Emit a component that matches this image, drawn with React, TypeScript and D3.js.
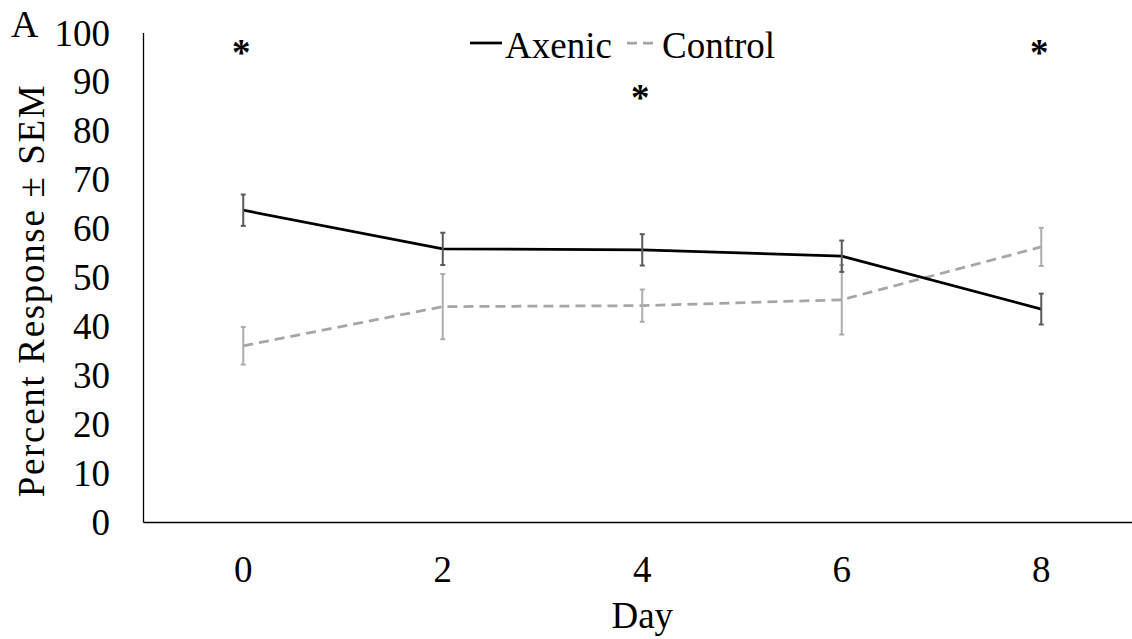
import React from "react";
import * as d3 from "d3";

// chart data
const days = ["0", "2", "4", "6", "8"];
const axenicMean = [63.8, 55.9, 55.7, 54.4, 43.6];
const axenicSem = [3.2, 3.3, 3.2, 3.2, 3.15];
const controlMean = [36.1, 44.1, 44.3, 45.5, 56.3];
const controlSem = [3.85, 6.65, 3.3, 7.1, 3.9];
const yTicks = [0, 10, 20, 30, 40, 50, 60, 70, 80, 90, 100];
// significance markers: day and height (percent)
const starDays = ["0", "4", "8"];
const starValues = [97.1, 87.8, 97.1];

const width = 1132;
const height = 639;
const margin = { top: 33, right: -9, bottom: 116.5, left: 143.5 };
const font = "'Liberation Serif', 'Times New Roman', serif";

const App = () => {
  const x = d3
    .scaleBand()
    .domain(days)
    .range([margin.left, width - margin.right])
    .padding(0);

  const y = d3
    .scaleLinear()
    .domain([0, 100])
    .range([height - margin.bottom, margin.top]);

  const cx = (d: string) => (x(d) as number) + x.bandwidth() / 2;

  const line = d3
    .line<number>()
    .x((_, i) => cx(days[i]))
    .y((v) => y(v));

  const errorBars = (means: number[], sems: number[], color: string) =>
    means.map((m, i) => {
      const px = cx(days[i]);
      const top = y(m + sems[i]);
      const bot = y(m - sems[i]);
      return (
        <g key={i} stroke={color} strokeWidth={2}>
          <line x1={px} x2={px} y1={top} y2={bot} />
          <line x1={px - 2.5} x2={px + 2.5} y1={top} y2={top} />
          <line x1={px - 2.5} x2={px + 2.5} y1={bot} y2={bot} />
        </g>
      );
    });

  const y0 = y(0);
  const plotMidY = (y(0) + y(100)) / 2;

  return (
    <>
      <style>{`body{margin:0}`}</style>
      <svg width={width} height={height} style={{ display: "block" }} fontFamily={font}>
        <rect width={width} height={height} fill="#fff" />

        {/* axes */}
        <line x1={margin.left} x2={margin.left} y1={y(100)} y2={y0} stroke="#000" strokeWidth={1.3} />
        <line x1={margin.left} x2={width - margin.right} y1={y0} y2={y0} stroke="#000" strokeWidth={1.6} />

        {yTicks.map((t) => (
          <text key={t} x={110} y={y(t)} dy={12.5} textAnchor="end" fontSize={37}>
            {t}
          </text>
        ))}
        {days.map((d) => (
          <text key={d} x={cx(d)} y={y0 + 59.5} textAnchor="middle" fontSize={37}>
            {d}
          </text>
        ))}

        <text x={(margin.left + width - margin.right) / 2} y={628} textAnchor="middle" fontSize={37}>
          Day
        </text>
        <text
          transform={`translate(44,${plotMidY + 13.5}) rotate(-90)`}
          textAnchor="middle"
          fontSize={37}
          textLength={412}
          lengthAdjust="spacing"
        >
          Percent Response ± SEM
        </text>
        <text x={11} y={37} fontSize={38}>
          A
        </text>

        {/* series */}
        <path d={line(controlMean) as string} fill="none" stroke="#a6a6a6" strokeWidth={2.75} strokeDasharray="10,6" />
        <path d={line(axenicMean) as string} fill="none" stroke="#000" strokeWidth={2.75} />
        {errorBars(controlMean, controlSem, "#adadad")}
        {errorBars(axenicMean, axenicSem, "#595959")}

        {/* significance stars */}
        {starDays.map((d, i) => (
          <text key={d} x={cx(d) - 2} y={y(starValues[i])} dy={17.5} textAnchor="middle" fontSize={37} fontWeight="bold">
            *
          </text>
        ))}

        {/* legend */}
        <line x1={470} x2={502} y1={43} y2={43} stroke="#000" strokeWidth={2.75} />
        <text x={505} y={58} fontSize={37}>
          Axenic
        </text>
        <line x1={627} x2={657} y1={43} y2={43} stroke="#a6a6a6" strokeWidth={2.75} strokeDasharray="10,6" />
        <text x={662} y={58} fontSize={37}>
          Control
        </text>
      </svg>
    </>
  );
};

export default App;
